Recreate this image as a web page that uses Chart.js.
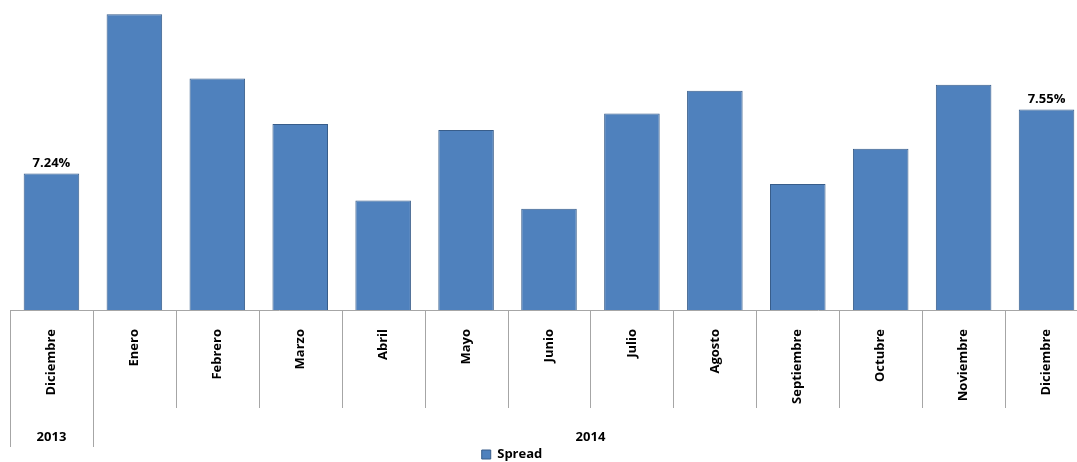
<!DOCTYPE html>
<html><head><meta charset="utf-8">
<script src="https://cdn.jsdelivr.net/npm/chart.js@4/dist/chart.umd.min.js"></script>
<style>html,body{margin:0;padding:0;overflow:hidden;background:#fff;width:1077px;height:462px}
canvas{display:block}</style></head>
<body><canvas id="c" width="1090" height="462" style="width:1090px;height:462px"></canvas>
<script>
const months = ['Diciembre','Enero','Febrero','Marzo','Abril','Mayo','Junio','Julio','Agosto','Septiembre','Octubre','Noviembre','Diciembre'];
const years = ['2013','2014'];
const yearSpans = [1, 12];
const spread = [7.24, 8.01, 7.70, 7.48, 7.11, 7.45, 7.07, 7.53, 7.64, 7.19, 7.36, 7.67, 7.55];
const labeledIdx = [0, 12];
const seriesName = 'Spread';

const FONT = '"Open Sans", "Liberation Sans", sans-serif';
const BASE_Y = 310;

const decor = {
  id: 'decor',
  afterLayout(chart) {
    const lg = chart.legend;
    if (lg) {
      lg.left -= 37; lg.right -= 37;
      const dy = 446 - lg.top;
      lg.top += dy; lg.bottom += dy;
    }
  },
  afterDraw(chart) {
    const ctx = chart.ctx, xs = chart.scales.x, area = chart.chartArea;
    const half = (xs.getPixelForValue(1) - xs.getPixelForValue(0)) / 2;
    const bottom = area.bottom;
    ctx.save();
    ctx.strokeStyle = '#A6A6A6';
    ctx.lineWidth = 1;
    ctx.beginPath();
    ctx.moveTo(area.left, Math.round(bottom) + 0.5);
    ctx.lineTo(area.right, Math.round(bottom) + 0.5);
    ctx.stroke();
    const groupEdges = [0];
    yearSpans.reduce((a, s) => { groupEdges.push(a + s); return a + s; }, 0);
    for (let i = 0; i <= months.length; i++) {
      const bx = Math.round(xs.getPixelForValue(0) - half + i * 2 * half) + 0.5;
      const len = groupEdges.includes(i) ? 137 : 98;
      ctx.beginPath();
      ctx.moveTo(bx, bottom);
      ctx.lineTo(bx, bottom + len);
      ctx.stroke();
    }
    ctx.fillStyle = '#000';
    ctx.font = 'bold 13px ' + FONT;
    ctx.textAlign = 'center';
    ctx.textBaseline = 'middle';
    for (let g = 0; g < years.length; g++) {
      const x0 = xs.getPixelForValue(0) - half + groupEdges[g] * 2 * half;
      const x1 = xs.getPixelForValue(0) - half + groupEdges[g + 1] * 2 * half;
      ctx.fillText(years[g], (x0 + x1) / 2, bottom + 127);
    }
    const meta = chart.getDatasetMeta(0);
    ctx.textBaseline = 'bottom';
    labeledIdx.forEach(i => {
      const el = meta.data[i];
      ctx.fillText(spread[i].toFixed(2) + '%', el.x, el.y - 4);
    });
    ctx.restore();
  }
};

new Chart(document.getElementById('c'), {
  type: 'bar',
  data: {
    labels: months,
    datasets: [{
      label: seriesName,
      data: spread,
      backgroundColor: '#4F81BD',
      borderColor: '#385D8A',
      borderWidth: 1,
      categoryPercentage: 1,
      barPercentage: 0.67
    }]
  },
  options: {
    responsive: false,
    animation: false,
    layout: { padding: { left: 10, right: 2, top: 4, bottom: 0 } },
    plugins: {
      legend: {
        position: 'bottom',
        labels: { boxWidth: 9, boxHeight: 9, padding: 2, color: '#000', font: { family: FONT, size: 13, weight: 'bold' } }
      },
      tooltip: { enabled: false }
    },
    scales: {
      x: {
        grid: { display: false, drawTicks: false },
        border: { display: false },
        ticks: { minRotation: 90, maxRotation: 90, autoSkip: false, padding: 19, color: '#000', font: { family: FONT, size: 13, weight: 'bold' } },
        afterFit(s) {
          const lg = s.chart.legend;
          s.height = s.chart.height - BASE_Y - (lg ? lg.height : 0);
        }
      },
      y: { display: false, min: 6.58, max: 8.06 }
    }
  },
  plugins: [decor]
});
</script></body></html>
